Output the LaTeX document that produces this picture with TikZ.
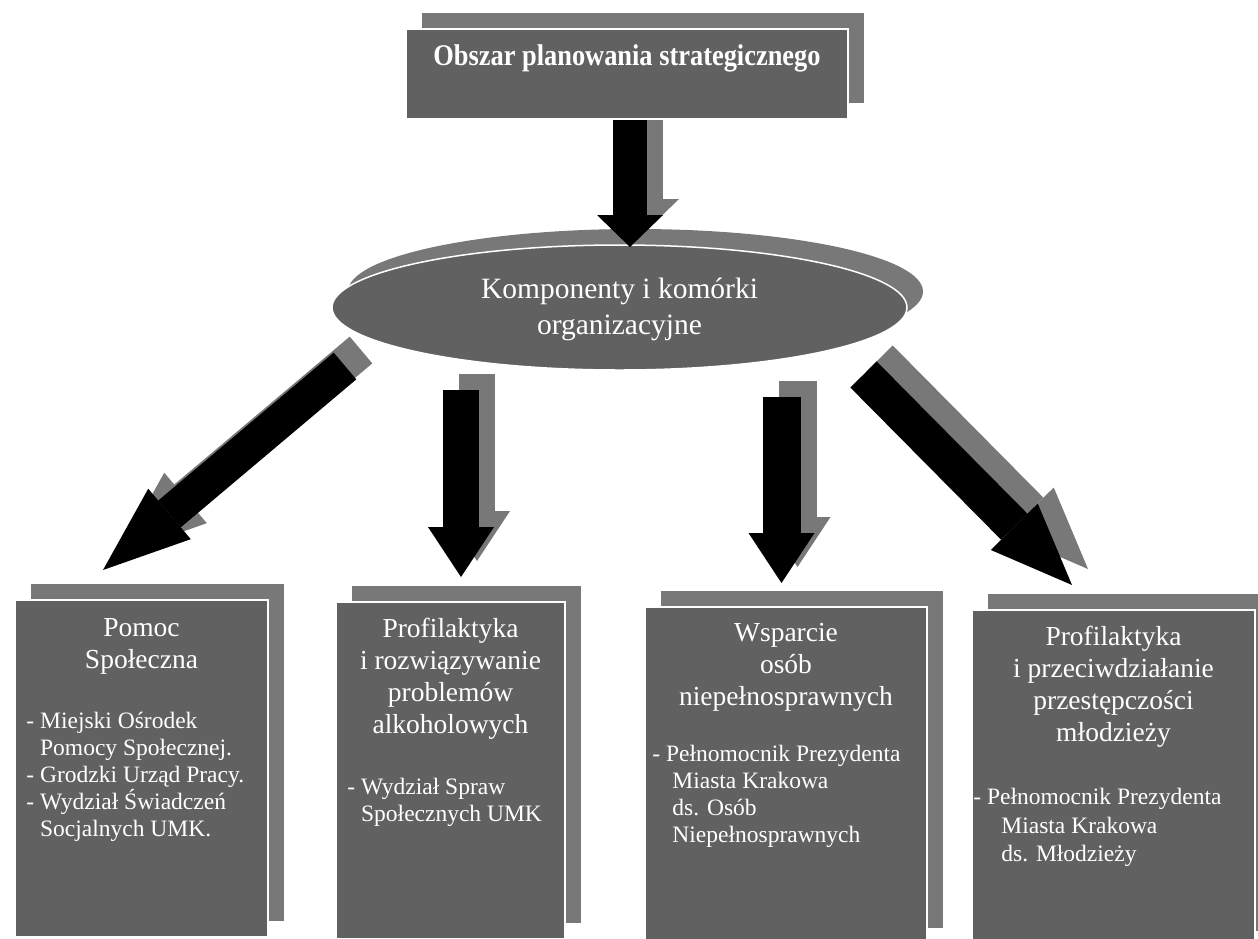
\documentclass[tikz,border=0pt]{standalone}
\usepackage{fontspec}
\setmainfont{Liberation Serif}
\newfontfamily\titlefont[FakeStretch=0.88]{Liberation Serif}
\usepackage{tikz}
\usetikzlibrary{positioning, shapes.geometric, arrows.meta, shadows, backgrounds}

\definecolor{boxgray}{gray}{0.38}
\definecolor{backgray}{gray}{0.47}

\newcommand{\dashindent}{\hphantom{- }}

\begin{document}
\begin{tikzpicture}[x=1pt, y=-1pt, node distance=17pt,
    frontbox/.style={draw=white, line width=1.5pt, fill=boxgray, inner sep=0pt,
        copy shadow={shadow xshift=16pt, shadow yshift=16pt, fill=backgray, draw=none}},
    panel/.style={frontbox, rectangle, minimum height=337pt},
    heading/.style={text=white, inner sep=0pt, align=center, font=\fontsize{27.5}{31.8}\selectfont},
    entries/.style={text=white, inner sep=0pt, align=left, font=\fontsize{23.5}{27}\selectfont},
    fat/.style={line width=36pt, -{Triangle[width=66pt, length=#1, line width=0pt]}},
    fatshadow/.style={fat=#1, draw=backgray, transform canvas={shift={(16pt,16pt)}}}]

    \useasboundingbox (0,0) rectangle (1258,938);
    \clip (0,0) rectangle (1258,938);

    % Middle ellipse
    \node (komp) [frontbox, ellipse, minimum width=575pt, minimum height=125pt] at (619.5,307.5) {};
    \node (komptext) [text=white, align=center, inner sep=0pt,
        font=\fontsize{29.5}{36}\selectfont] at (619.5,309) {Komponenty i komórki\\organizacyjne};

    % Top arrow, over the ellipse and under the top box
    \coordinate (tail0) at (630,119);
    \coordinate (tip0) at (630,247);
    \draw[fatshadow=32pt, line width=34pt] (tail0) -- (tip0);
    \draw[fat=32pt, line width=34pt] (tail0) -- (tip0);

    % Top box
    \node (obszar) [frontbox, rectangle, minimum width=442pt, minimum height=90pt] at (627,74) {};
    \node (obszartext) [below=16pt of obszar.north, text=white, inner sep=0pt,
        font=\titlefont\bfseries\fontsize{30}{36}\selectfont] {Obszar planowania strategicznego};

    % Bottom row boxes
    \node (pomoc) [panel, minimum width=253pt] at (141.5,768.5) {};
    \node (alko) [panel, minimum width=229pt] at (450.5,770.5) {};
    \node (wsparcie) [panel, minimum width=282pt] at (786,775.5) {};
    \node (mlodziez) [panel, minimum width=283pt] at (1113.5,778.5) {};

    % Box headings
    \node (pomochead) [heading, below=19pt of pomoc.north] {Pomoc\\Społeczna};
    \node (alkohead) [heading, below=of alko.north] {Profilaktyka\\i rozwiązywanie\\problemów\\alkoholowych};
    \node (wsparciehead) [heading, below=of wsparcie.north] {Wsparcie\\osób\\niepełnosprawnych};
    \node (mlodziezhead) [heading, below=of mlodziez.north] {Profilaktyka\\i przeciwdziałanie\\przestępczości\\młodzieży};

    % Box entries
    \node (pomocitems) [entries, below right=113pt and 12pt of pomoc.north west]
        {- Miejski Ośrodek\\\dashindent Pomocy Społecznej.\\- Grodzki Urząd Pracy.\\- Wydział Świadczeń\\\dashindent Socjalnych UMK.};
    \node (alkoitems) [entries, below right=177pt and 12pt of alko.north west]
        {- Wydział Spraw\\\dashindent Społecznych UMK};
    \node (wsparcieitems) [entries, below right=139pt and 8pt of wsparcie.north west]
        {- Pełnomocnik Prezydenta\\\hspace*{20pt}Miasta Krakowa\\\hspace*{20pt}ds. Osób\\\hspace*{20pt}Niepełnosprawnych};
    \node (mlodziezitems) [entries, below right=179pt and 2pt of mlodziez.north west,
        font=\fontsize{23.5}{28.5}\selectfont]
        {- Pełnomocnik Prezydenta\\\hspace*{28pt}Miasta Krakowa\\\hspace*{28pt}ds. Młodzieży};

    % Arrow ends
    \coordinate (tail1) at (345,366);
    \coordinate (tip1) at (103,570);
    \coordinate (tail2) at (461,390);
    \coordinate (tip2) at (461,577);
    \coordinate (tail3) at (781.5,397);
    \coordinate (tip3) at (781.5,583);
    \coordinate (tail4) at (863.5,374.5);
    \coordinate (tip4) at (1072,585);

    % Block arrows with their shadows
    \begin{scope}[on background layer]
        \draw[fatshadow=87pt, line width=35pt] (tail1) -- (tip1);
        \draw[fatshadow=50pt] (tail2) -- (tip2);
        \draw[fatshadow=50pt, line width=38pt] (tail3) -- (tip3);
        \draw[fatshadow=82pt, line width=37pt] (tail4) -- (tip4);

        \draw[fat=87pt, line width=35pt] (tail1) -- (tip1);
        \draw[fat=50pt] (tail2) -- (tip2);
        \draw[fat=50pt, line width=38pt] (tail3) -- (tip3);
        \draw[fat=82pt, line width=37pt] (tail4) -- (tip4);
    \end{scope}

\end{tikzpicture}
\end{document}
